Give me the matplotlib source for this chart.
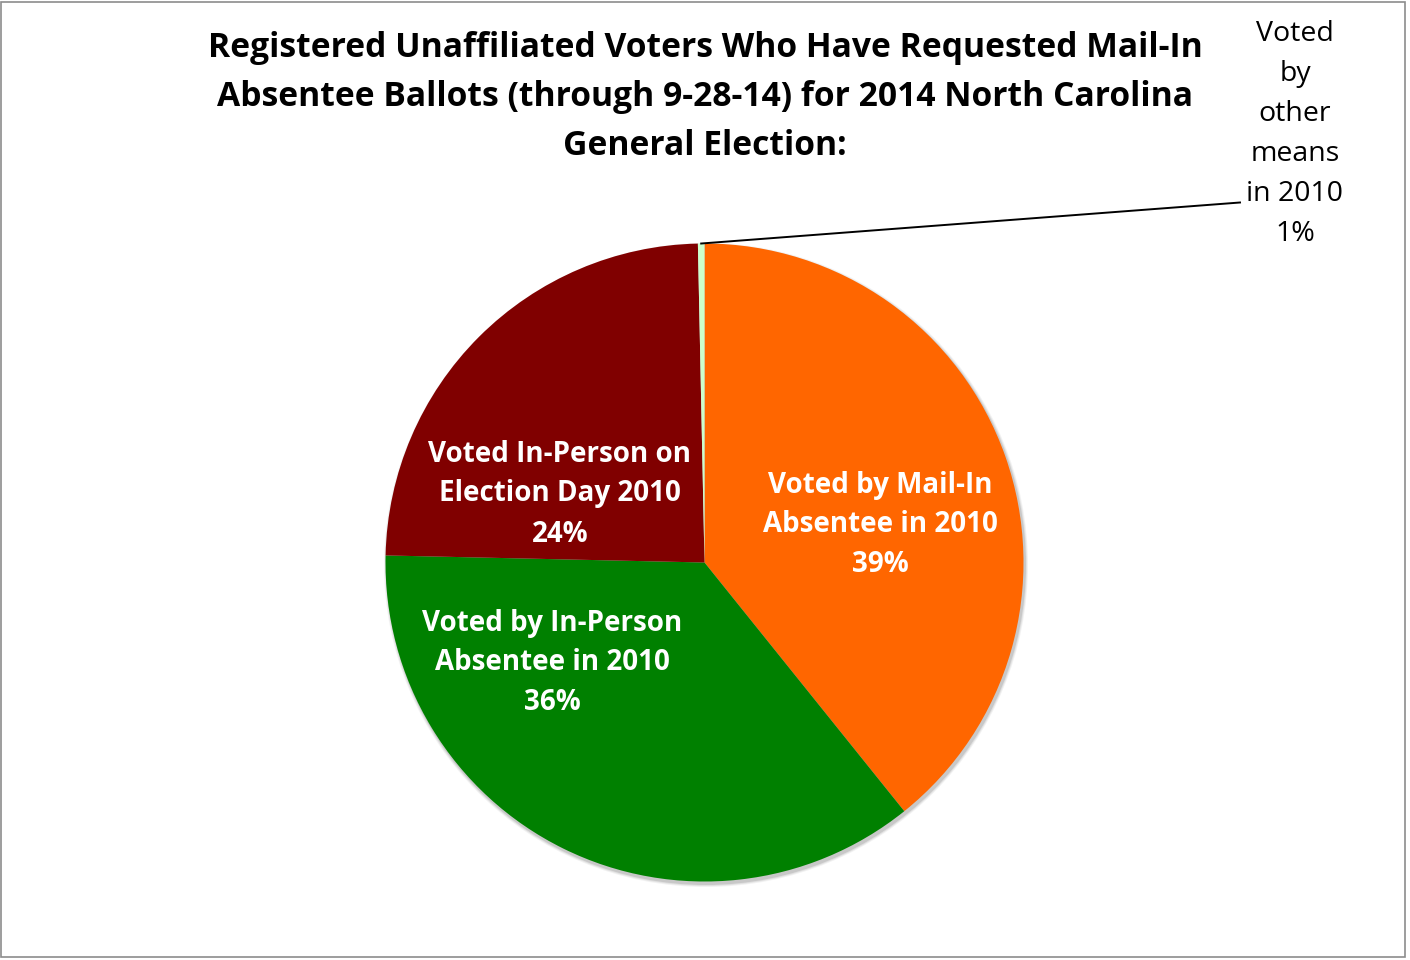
import matplotlib
matplotlib.use("Agg")
import matplotlib.pyplot as plt
from matplotlib.patches import Circle, Rectangle
import numpy as np

# data
categories = [
    "Voted by Mail-In\nAbsentee in 2010",
    "Voted by In-Person\nAbsentee in 2010",
    "Voted In-Person on\nElection Day 2010",
    "Voted\nby\nother\nmeans\nin 2010",
]
shares = [39.2, 36.1, 24.3, 0.33]
pct_labels = ["39%", "36%", "24%", "1%"]
colors = ["#FF6600", "#008000", "#800000", "#CCFFCC"]

title = ("Registered Unaffiliated Voters Who Have Requested Mail-In\n"
         "Absentee Ballots (through 9-28-14) for 2014 North Carolina\n"
         "General Election:")

W, H = 1410, 960
FONT = "Open Sans"

fig = plt.figure(figsize=(W / 100, H / 100), dpi=100)
ax = fig.add_axes([0, 0, 1, 1])

cx, cy, r = 704.5, H - 562.5, 319

# soft shadow under the pie
for k, a in enumerate([0.10, 0.15, 0.25]):
    ax.add_patch(Circle((cx + 1.5, cy - 2.5), r + 3 - k, color="#808080",
                        alpha=a, lw=0, zorder=0))

wedges, _ = ax.pie(shares, colors=colors, startangle=90, counterclock=False,
                   center=(cx, cy), radius=r,
                   wedgeprops=dict(linewidth=0, zorder=1))

ax.set_xlim(0, W)
ax.set_ylim(0, H)
ax.set_aspect("equal")
ax.axis("off")

# label centres in pixel coords (y from top)
label_pos = [(880, 525), (552, 663), (560, 494)]
for i, (x, y) in enumerate(label_pos):
    ax.text(x, H - y, categories[i] + "\n" + pct_labels[i], ha="center",
            va="center", color="white", fontsize=20, fontweight="bold",
            family=FONT, linespacing=1.5, zorder=3)

# small slice: outside label with leader line
w = wedges[3]
mid = np.deg2rad((w.theta1 + w.theta2) / 2)
sx, sy = cx + r * np.cos(mid), cy + r * np.sin(mid)
ax.plot([sx, 1240], [sy, H - 202.5], color="black", lw=1.4, zorder=3)
ax.text(1295, H - 134, categories[3] + "\n" + pct_labels[3], ha="center",
        va="center", color="black", fontsize=20.5, family=FONT,
        linespacing=1.57)

fig.text(705 / W, 1 - 97 / H, title, ha="center", va="center",
         fontsize=24.2, fontweight="bold", family=FONT, linespacing=1.56)

fig.patches.append(Rectangle((1 / W, 3 / H), 1404 / W, 955 / H,
                             transform=fig.transFigure, fill=False,
                             edgecolor="#8c8c8c", lw=1.2))

fig.savefig("out.png", dpi=100)
